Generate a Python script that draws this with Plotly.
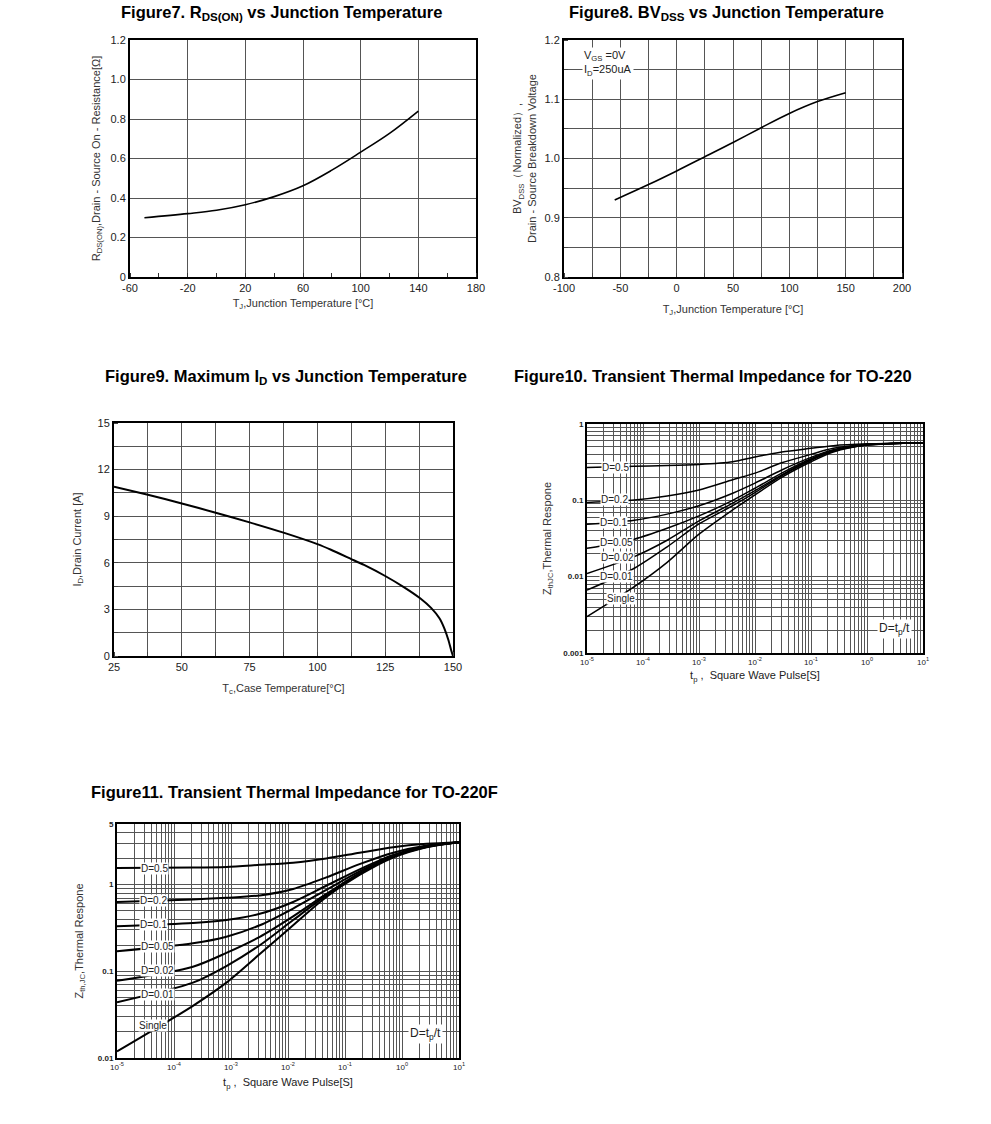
import plotly.graph_objects as go

# ---------------- data ----------------
fig7_tj = [-50, -20, 0, 20, 40, 60, 80, 100, 120, 140]
fig7_rds = [0.300, 0.321, 0.338, 0.366, 0.407, 0.462, 0.541, 0.632, 0.727, 0.840]

fig8_tj = [-55, -25, 0, 25, 50, 75, 100, 125, 150]
fig8_bv = [0.930, 0.956, 0.979, 1.003, 1.027, 1.052, 1.076, 1.096, 1.111]

fig9_tc = [25, 37.5, 50, 62.5, 75, 87.5, 100, 105, 112.5, 117.2, 125, 132, 138, 142, 145, 146.8, 148.3, 149.3, 150]
fig9_id = [10.9, 10.38, 9.82, 9.22, 8.6, 7.94, 7.2, 6.84, 6.24, 5.86, 5.15, 4.42, 3.70, 3.08, 2.43, 1.78, 1.03, 0.39, 0.0]

fig10_tp = [1e-5, 7e-5, 2.7e-4, 1e-3, 4e-3, 1e-2, 3e-2, 0.1, 0.25, 1, 10]
fig10_curves = {
    "D=0.5": [0.27, 0.28, 0.285, 0.295, 0.32, 0.37, 0.43, 0.48, 0.52, 0.55, 0.57],
    "D=0.2": [0.094, 0.101, 0.114, 0.137, 0.186, 0.227, 0.31, 0.40, 0.48, 0.54, 0.57],
    "D=0.1": [0.0485, 0.055, 0.066, 0.085, 0.124, 0.168, 0.25, 0.365, 0.46, 0.54, 0.57],
    "D=0.05": [0.0235, 0.031, 0.043, 0.0625, 0.10, 0.144, 0.227, 0.35, 0.45, 0.535, 0.57],
    "D=0.02": [0.011, 0.0183, 0.030, 0.0537, 0.092, 0.134, 0.215, 0.34, 0.445, 0.535, 0.57],
    "D=0.01": [0.00666, 0.0129, 0.0246, 0.049, 0.085, 0.126, 0.21, 0.335, 0.44, 0.53, 0.57],
    "Single": [0.003, 0.0074, 0.0154, 0.036, 0.075, 0.118, 0.20, 0.32, 0.43, 0.53, 0.57],
}

fig11_tp = [1e-5, 2.15e-4, 8.3e-4, 3.2e-3, 1.23e-2, 4.7e-2, 0.18, 0.7, 2.7, 10]
fig11_curves = {
    "D=0.5": [1.55, 1.57, 1.60, 1.69, 1.79, 2.0, 2.33, 2.7, 2.95, 3.08],
    "D=0.2": [0.63, 0.675, 0.705, 0.75, 0.89, 1.21, 1.72, 2.33, 2.82, 3.08],
    "D=0.1": [0.33, 0.36, 0.39, 0.46, 0.63, 0.97, 1.5, 2.2, 2.78, 3.08],
    "D=0.05": [0.17, 0.21, 0.25, 0.34, 0.53, 0.87, 1.42, 2.15, 2.75, 3.08],
    "D=0.02": [0.0776, 0.113, 0.163, 0.25, 0.43, 0.78, 1.36, 2.12, 2.73, 3.08],
    "D=0.01": [0.044, 0.074, 0.115, 0.20, 0.39, 0.75, 1.33, 2.1, 2.72, 3.08],
    "Single": [0.0119, 0.040, 0.074, 0.158, 0.34, 0.72, 1.29, 2.05, 2.7, 3.08],
}

fig7_xticks = [-60, -20, 20, 60, 100, 140, 180]
fig7_xlabels = ["-60", "-20", "20", "60", "100", "140", "180"]
fig7_yticks = [0, 0.2, 0.4, 0.6, 0.8, 1.0, 1.2]
fig7_ylabels = ["0", "0.2", "0.4", "0.6", "0.8", "1.0", "1.2"]
fig8_xticks = [-100, -50, 0, 50, 100, 150, 200]
fig8_xlabels = ["-100", "-50", "0", "50", "100", "150", "200"]
fig8_yticks = [0.8, 0.9, 1.0, 1.1, 1.2]
fig9_xticks = [25, 50, 75, 100, 125, 150]
fig9_yticks = [0, 3, 6, 9, 12, 15]
log_xticks = [1e-5, 1e-4, 1e-3, 1e-2, 1e-1, 1, 10]
log_xlabels = ["10<sup>-5</sup>", "10<sup>-4</sup>", "10<sup>-3</sup>", "10<sup>-2</sup>",
               "10<sup>-1</sup>", "10<sup>0</sup>", "10<sup>1</sup>"]
fig10_yticks = [0.001, 0.01, 0.1, 1]
fig10_ylabels = ["<b>0.001</b>", "<b>0.01</b>", "<b>0.1</b>", "<b>1</b>"]
fig11_yticks = [0.01, 0.1, 1, 5]
fig11_ylabels = ["<b>0.01</b>", "<b>0.1</b>", "<b>1</b>", "<b>5</b>"]

# label positions in (log10 t, log10 Z)
fig10_labelpos = {"D=0.5": (-4.495, -0.569), "D=0.2": (-4.513, -0.994), "D=0.1": (-4.525, -1.288),
                  "D=0.05": (-4.465, -1.551), "D=0.02": (-4.453, -1.748), "D=0.01": (-4.465, -2.002),
                  "Single": (-4.394, -2.286)}
fig11_labelpos = {"D=0.5": (-4.339, 0.189), "D=0.2": (-4.351, -0.182), "D=0.1": (-4.368, -0.455),
                  "D=0.05": (-4.281, -0.712), "D=0.02": (-4.281, -0.996), "D=0.01": (-4.281, -1.273),
                  "Single": (-4.368, -1.629)}

# ---------------- layout helpers ----------------
W, H = 991, 1124
FONT = "Arial, Liberation Sans, sans-serif"


def xdom(x0, x1):
    return [x0 / W, x1 / W]


def ydom(y0, y1):
    return [1 - y1 / H, 1 - y0 / H]


frame = dict(showline=True, mirror=True, linecolor="black", linewidth=2,
             gridcolor="#555", gridwidth=1, zeroline=False, automargin=False,
             ticks="", tickfont=dict(family=FONT, size=11, color="#222"))

fig = go.Figure()

fig.add_trace(go.Scatter(x=fig7_tj, y=fig7_rds, mode="lines", line=dict(color="black", width=1.6, shape="spline"),
                         xaxis="x", yaxis="y", showlegend=False))
fig.add_trace(go.Scatter(x=fig8_tj, y=fig8_bv, mode="lines", line=dict(color="black", width=1.6, shape="spline"),
                         xaxis="x2", yaxis="y2", showlegend=False))
fig.add_trace(go.Scatter(x=fig9_tc, y=fig9_id, mode="lines", line=dict(color="black", width=2, shape="spline", smoothing=0.6),
                         xaxis="x3", yaxis="y3", showlegend=False))
for name, vals in fig10_curves.items():
    fig.add_trace(go.Scatter(x=fig10_tp, y=vals, mode="lines", name=name,
                             line=dict(color="black", width=1.5, shape="spline", smoothing=0.8),
                             xaxis="x4", yaxis="y4", showlegend=False))
for name, vals in fig11_curves.items():
    fig.add_trace(go.Scatter(x=fig11_tp, y=vals, mode="lines", name=name,
                             line=dict(color="black", width=2, shape="spline", smoothing=0.8),
                             xaxis="x5", yaxis="y5", showlegend=False))

titlefont = dict(family=FONT, size=11, color="#333")
logminor = dict(dtick="D1", showgrid=True, gridcolor="#555", gridwidth=0.8, ticks="")
logtickfont = dict(family=FONT, size=8, color="#222")

fig.update_layout(
    width=W, height=H, margin=dict(l=0, r=0, t=0, b=0),
    paper_bgcolor="white", plot_bgcolor="white",
    font=dict(family=FONT, color="#222"),
    # Figure 7
    xaxis=dict(frame, domain=xdom(130, 476), anchor="y", range=[-60, 180], tickvals=fig7_xticks, ticktext=fig7_xlabels,
               minor=dict(dtick=20, tick0=-60, ticks="inside", ticklen=4, tickcolor="#333"),
               title=dict(text="T<sub>J</sub>,Junction Temperature [°C]", font=titlefont, standoff=6)),
    yaxis=dict(frame, domain=ydom(40, 277), anchor="x", range=[0, 1.2], tickvals=fig7_yticks, ticktext=fig7_ylabels,
               title=dict(text="R<sub>DS(ON)</sub>,Drain - Source On - Resistance[Ω]", font=titlefont, standoff=8)),
    # Figure 8
    xaxis2=dict(frame, domain=xdom(564, 902), anchor="y2", range=[-100, 200], tickvals=fig8_xticks, ticktext=fig8_xlabels,
                minor=dict(dtick=25, tick0=-100, showgrid=True, gridcolor="#555", ticks="inside", ticklen=4),
                title=dict(text="T<sub>J</sub>,Junction Temperature [°C]", font=titlefont, standoff=12)),
    yaxis2=dict(frame, domain=ydom(40, 277), anchor="x2", range=[0.8, 1.2], tickvals=fig8_yticks, tickformat=".1f",
                minor=dict(dtick=0.05, tick0=0.8, showgrid=True, gridcolor="#555", ticks="inside", ticklen=4),
                title=dict(text="BV<sub>DSS</sub>（Normalized）,<br>Drain - Source Breakdown Voltage",
                           font=titlefont, standoff=6)),
    # Figure 9
    xaxis3=dict(frame, domain=xdom(114, 453), anchor="y3", range=[25, 150], tickvals=fig9_xticks,
                minor=dict(dtick=12.5, tick0=25, showgrid=True, gridcolor="#555", ticks="inside", ticklen=4),
                title=dict(text="T<sub>c</sub>,Case Temperature[°C]", font=titlefont, standoff=12)),
    yaxis3=dict(frame, domain=ydom(423, 656), anchor="x3", range=[0, 15], tickvals=fig9_yticks,
                minor=dict(dtick=1.5, tick0=0, showgrid=True, gridcolor="#555", ticks="inside", ticklen=4),
                title=dict(text="I<sub>D</sub>,Drain Current [A]", font=titlefont, standoff=14)),
    # Figure 10
    xaxis4=dict(frame, type="log", domain=xdom(587, 923), anchor="y4", range=[-5, 1],
                tickvals=log_xticks, ticktext=log_xlabels, tickfont=logtickfont,
                minor=logminor,
                title=dict(text="t<sub>p</sub> ,  Square Wave Pulse[S]", font=dict(family=FONT, size=11, color="#222"), standoff=6)),
    yaxis4=dict(frame, type="log", domain=ydom(424, 653), anchor="x4", range=[-3, 0],
                tickvals=fig10_yticks, ticktext=fig10_ylabels, tickfont=logtickfont,
                minor=logminor,
                title=dict(text="Z<sub>thJC</sub>,Thermal Respone", font=titlefont, standoff=10)),
    # Figure 11
    xaxis5=dict(frame, type="log", domain=xdom(117, 459), anchor="y5", range=[-5, 1],
                tickvals=log_xticks, ticktext=log_xlabels, tickfont=logtickfont,
                minor=logminor,
                title=dict(text="t<sub>p</sub> ,  Square Wave Pulse[S]", font=dict(family=FONT, size=11, color="#222"), standoff=8)),
    yaxis5=dict(frame, type="log", domain=ydom(824, 1058), anchor="x5", range=[-2, 0.69897],
                tickvals=fig11_yticks, ticktext=fig11_ylabels, tickfont=logtickfont,
                minor=logminor,
                title=dict(text="Z<sub>th,JC</sub>,Thermal Respone", font=titlefont, standoff=12)),
)

annotations = []
titles = [
    ("<b>Figure7. R<sub>DS(ON)</sub> vs Junction Temperature</b>", 281, 13),
    ("<b>Figure8. BV<sub>DSS</sub> vs Junction Temperature</b>", 726, 13),
    ("<b>Figure9. Maximum I<sub>D</sub> vs Junction Temperature</b>", 286, 377),
    ("<b>Figure10. Transient Thermal Impedance for TO-220</b>", 713, 376),
    ("<b>Figure11. Transient Thermal Impedance for TO-220F</b>", 294, 792),
]
for text, px, py in titles:
    annotations.append(dict(text=text, x=px / W, y=1 - py / H, xref="paper", yref="paper",
                            showarrow=False, xanchor="center", yanchor="middle",
                            font=dict(family=FONT, size=16.5, color="black")))

# Figure 8 conditions
annotations.append(dict(text="V<sub>GS</sub> =0V<br>I<sub>D</sub>=250uA", x=-84, y=1.16, xref="x2", yref="y2",
                        showarrow=False, xanchor="left", yanchor="middle", align="left", bgcolor="white",
                        font=dict(family=FONT, size=11, color="#222")))

for name, (lx, ly) in fig10_labelpos.items():
    annotations.append(dict(text=name, x=lx, y=ly, xref="x4", yref="y4", showarrow=False,
                            bgcolor="white", borderpad=0, font=dict(family=FONT, size=10, color="#222")))
annotations.append(dict(text="D=t<sub>p</sub>/t", x=0.496, y=-2.681, xref="x4", yref="y4", showarrow=False,
                        bgcolor="white", borderpad=1, font=dict(family=FONT, size=12, color="#222")))
for name, (lx, ly) in fig11_labelpos.items():
    annotations.append(dict(text=name, x=lx, y=ly, xref="x5", yref="y5", showarrow=False,
                            bgcolor="white", borderpad=0, font=dict(family=FONT, size=10, color="#222")))
annotations.append(dict(text="D=t<sub>p</sub>/t", x=0.415, y=-1.727, xref="x5", yref="y5", showarrow=False,
                        bgcolor="white", borderpad=1, font=dict(family=FONT, size=12, color="#222")))

fig.update_layout(annotations=annotations)
fig.write_html("out.html", config={"displayModeBar": False},
               post_script="document.body.style.margin='0px';document.body.style.overflow='hidden';")
